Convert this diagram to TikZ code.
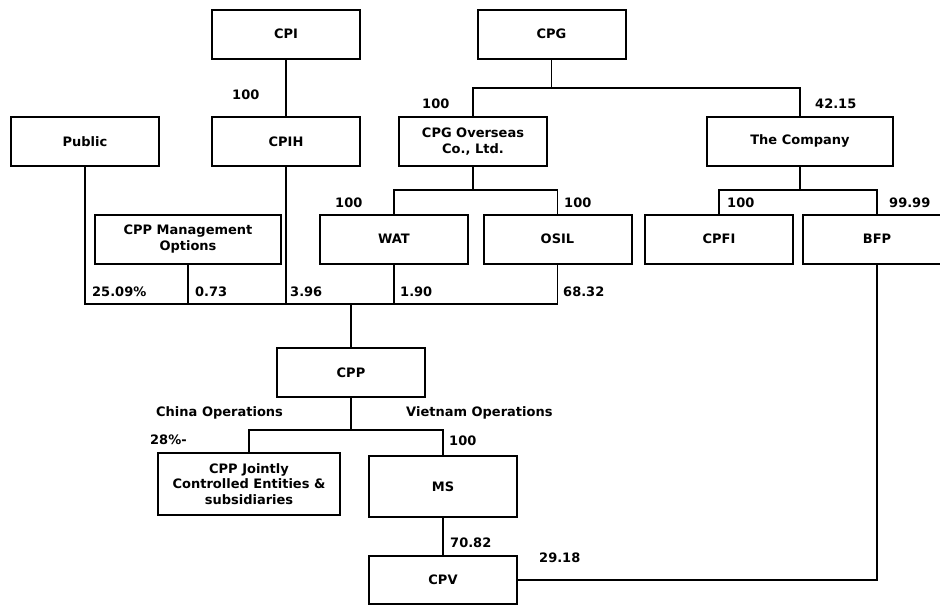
\documentclass[tikz,border=0pt]{standalone}
\usepackage{fontspec}
\setmainfont{DejaVu Sans}

\begin{document}
\begin{tikzpicture}[x=1pt,y=-1pt,
  caja/.style={draw,line width=2pt,minimum width=148pt,minimum height=49pt,inner sep=0pt,align=center,font=\bfseries\fontsize{13}{15.3}\selectfont},
  ancha/.style={caja,minimum width=186pt},
  pct/.style={anchor=base west,inner sep=0pt,font=\bfseries\fontsize{13}{15.3}\selectfont},
  enlace/.style={line width=1.4pt}
  ]
  \useasboundingbox (0,0) rectangle (940,605);

  \node[caja] (cpi) at (286,34) {CPI};
  \node[caja] (cpg) at (551.5,34) {CPG};
  \node[caja] (pub) at (85,141.5) {Public};
  \node[caja] (cpih) at (286,141.5) {CPIH};
  \node[caja] (ovs) at (473,141.5) {CPG Overseas\\Co., Ltd.};
  \node[ancha] (comp) at (800,141.5) {\strut The Company};
  \node[ancha] (mgmt) at (188,239) {CPP Management\\Options};
  \node[caja] (wat) at (394,239) {WAT};
  \node[caja] (osil) at (557.5,239) {OSIL};
  \node[caja] (cpfi) at (719,239) {CPFI};
  \node[caja] (bfp) at (877,239) {BFP};
  \node[caja] (cpp) at (351,372.5) {CPP};
  \node[caja,minimum width=182pt,minimum height=62pt] (jce) at (249,484) {CPP Jointly\\Controlled Entities \&\\subsidiaries};
  \node[caja,minimum height=61pt] (ms) at (443,486.5) {MS};
  \node[caja,minimum height=48pt] (cpv) at (443,580) {CPV};

  \coordinate (j1) at (551.5,88);
  \coordinate (j2) at (473,190);
  \coordinate (j3) at (800,190);
  \coordinate (j4) at (351,304);
  \coordinate (j5) at (351,430);

  \draw[enlace] (cpi) -- (cpih);
  \draw[enlace] (cpg) -- (j1);
  \draw[enlace] (ovs.north) |- (j1) -| (comp.north);
  \draw[enlace] (ovs) -- (j2);
  \draw[enlace] (wat.north) |- (j2) -| (osil.north);
  \draw[enlace] (comp) -- (j3);
  \draw[enlace] (cpfi.north) |- (j3) -| (bfp.north);
  \draw[enlace] (pub.south) |- (j4) -| (osil.south);
  \draw[enlace] (mgmt.south) -- (mgmt.south |- j4);
  \draw[enlace] (cpih.south) -- (cpih.south |- j4);
  \draw[enlace] (wat.south) -- (wat.south |- j4);
  \draw[enlace] (j4) -- (cpp);
  \draw[enlace] (cpp) -- (j5);
  \draw[enlace] (jce.north) |- (j5) -| (ms.north);
  \draw[enlace] (ms) -- (cpv);
  \draw[enlace] (cpv.east) -| (bfp.south);

  % porcentajes
  \node[pct] (p1) at (232,99) {100};
  \node[pct] (p2) at (422,108) {100};
  \node[pct] (p3) at (815,108) {42.15};
  \node[pct] (p4) at (335,207) {100};
  \node[pct] (p5) at (564,207) {100};
  \node[pct] (p6) at (727,207) {100};
  \node[pct] (p7) at (889,207) {99.99};
  \node[pct] (p8) at (92,296) {25.09\%};
  \node[pct] (p9) at (195,296) {0.73};
  \node[pct] (p10) at (290,296) {3.96};
  \node[pct] (p11) at (400,296) {1.90};
  \node[pct] (p12) at (563,296) {68.32};
  \node[pct] (china) at (156,416) {China Operations};
  \node[pct] (viet) at (406,416) {Vietnam Operations};
  \node[pct] (p13) at (150,444) {28\%-};
  \node[pct] (p14) at (449,445) {100};
  \node[pct] (p15) at (450,547) {70.82};
  \node[pct] (p16) at (539,562) {29.18};

\end{tikzpicture}
\end{document}
